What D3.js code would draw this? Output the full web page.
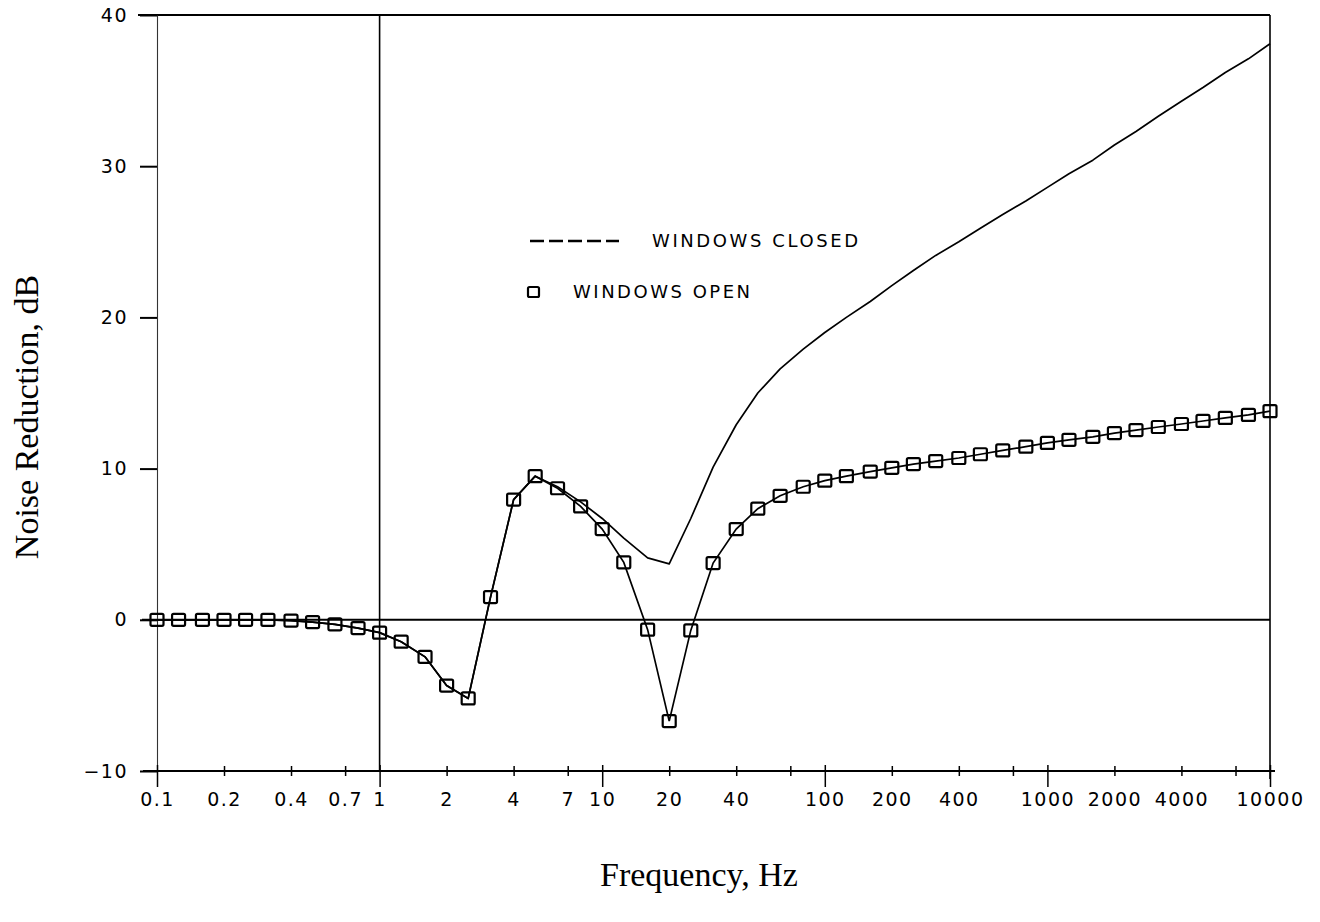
<!DOCTYPE html>
<html>
<head>
<meta charset="utf-8">
<script src="https://cdn.jsdelivr.net/npm/d3@7"></script>
<style>
  body { margin: 0; background: #fff; }
  #chart { width: 1320px; height: 922px; }
  .tickLabel { font-family: "DejaVu Sans", sans-serif; font-size: 19px; letter-spacing: 1.5px; fill: #000; }
  .axisTitle { font-family: "Liberation Serif", "Times New Roman", serif; font-size: 34px; fill: #000; }
  .legendText { font-family: "DejaVu Sans", sans-serif; font-size: 18px; fill: #000; }
</style>
</head>
<body>
<div id="chart"></div>
<script>
// 1/3 octave band centres, Hz
const frequencies = [0.1, 0.125, 0.16, 0.2, 0.25, 0.315, 0.4, 0.5, 0.63, 0.8,
  1, 1.25, 1.6, 2, 2.5, 3.15, 4, 5, 6.3, 8,
  10, 12.5, 16, 20, 25, 31.5, 40, 50, 63, 80,
  100, 125, 160, 200, 250, 315, 400, 500, 630, 800,
  1000, 1250, 1600, 2000, 2500, 3150, 4000, 5000, 6300, 8000, 10000];

// noise reduction, dB
const windowsOpen = [0, 0, 0, 0, 0, 0, -0.05, -0.15, -0.3, -0.55,
  -0.85, -1.45, -2.45, -4.35, -5.2, 1.5, 7.95, 9.5, 8.7, 7.5,
  6.0, 3.8, -0.65, -6.7, -0.7, 3.75, 6.0, 7.35, 8.2, 8.8,
  9.2, 9.5, 9.8, 10.05, 10.3, 10.5, 10.7, 10.95, 11.2, 11.45,
  11.7, 11.9, 12.1, 12.35, 12.55, 12.75, 12.95, 13.15, 13.35, 13.55, 13.8];

const windowsClosed = [0, 0, 0, 0, 0, 0, -0.05, -0.15, -0.3, -0.55,
  -0.85, -1.45, -2.45, -4.35, -5.2, 1.5, 7.95, 9.5, 8.8, 7.8,
  6.7, 5.4, 4.1, 3.7, 6.7, 10.1, 12.9, 15.0, 16.6, 17.9,
  19.0, 20.0, 21.05, 22.1, 23.1, 24.1, 25.0, 25.9, 26.8, 27.7,
  28.6, 29.5, 30.4, 31.4, 32.3, 33.3, 34.3, 35.2, 36.2, 37.1, 38.1];

const xTicks = [0.1, 0.2, 0.4, 0.7, 1, 2, 4, 7, 10, 20, 40, 70, 100, 200, 400, 700, 1000, 2000, 4000, 7000, 10000];
const xTickLabels = ["0.1", "0.2", "0.4", "0.7", "1", "2", "4", "7", "10", "20", "40", "", "100", "200", "400", "", "1000", "2000", "4000", "", "10000"];
const yTicks = [-10, 0, 10, 20, 30, 40];

const legendItems = ["WINDOWS CLOSED", "WINDOWS OPEN"];

const chartDiv = d3.select('#chart');
const width = 1320, height = 922;

const svg = chartDiv.append("svg")
  .attr('width', width)
  .attr('height', height)
  .attr('viewBox', [0, 0, width, height]);

const x = d3.scaleLog().domain([0.1, 10000]).range([157, 1270]);
const y = d3.scaleLinear().domain([-10, 40]).range([771, 15]);

const isDecade = d => Math.abs(Math.log10(d) - Math.round(Math.log10(d))) < 1e-6;

// frame lines
svg.append("line")
  .attr("x1", 138).attr("x2", x(10000))
  .attr("y1", y(40)).attr("y2", y(40))
  .attr("stroke", "#000").attr("stroke-width", 2);

svg.append("line")
  .attr("x1", x(1)).attr("x2", x(1))
  .attr("y1", y(40)).attr("y2", y(-10))
  .attr("stroke", "#000").attr("stroke-width", 1.6);

svg.append("line")
  .attr("x1", x(10000)).attr("x2", x(10000))
  .attr("y1", y(40)).attr("y2", y(-10) + 8)
  .attr("stroke", "#000").attr("stroke-width", 1.6);

svg.append("line")
  .attr("x1", 142).attr("x2", x(10000))
  .attr("y1", y(0)).attr("y2", y(0))
  .attr("stroke", "#000").attr("stroke-width", 2);

// y axis
const yAxis = svg.append("g")
  .attr("transform", `translate(${x(0.1)},0)`)
  .call(d3.axisLeft(y)
    .tickValues(yTicks)
    .tickSizeInner(17)
    .tickSizeOuter(0)
    .tickPadding(12)
    .tickFormat(d => d < 0 ? "\u2212" + Math.abs(d) : d));

yAxis.select(".domain").attr("stroke", "#333").attr("stroke-width", 1.1);
yAxis.selectAll(".tick line").attr("stroke", "#000").attr("stroke-width", 2);
yAxis.selectAll(".tick text").attr("class", "tickLabel");

// x axis
const xAxis = svg.append("g")
  .attr("transform", `translate(0,${y(-10)})`)
  .call(d3.axisBottom(x)
    .tickValues(xTicks)
    .tickSizeOuter(0)
    .tickFormat((d, i) => xTickLabels[i]));

xAxis.select(".domain")
  .attr("d", `M143,0H${x(10000) + 5}`)
  .attr("stroke", "#000").attr("stroke-width", 2.2);

xAxis.selectAll(".tick line")
  .attr("stroke", "#000").attr("stroke-width", 1.5)
  .attr("y1", d => isDecade(d) ? -6 : -5)
  .attr("y2", d => isDecade(d) ? 16 : 5);

xAxis.selectAll(".tick text")
  .attr("class", "tickLabel")
  .attr("y", 22);

// series
const data = frequencies.map((f, i) => ({ f: f, open: windowsOpen[i], closed: windowsClosed[i] }));

const closedLine = d3.line()
  .x(d => x(d.f))
  .y(d => y(d.closed));

const openLine = d3.line()
  .x(d => x(d.f))
  .y(d => y(d.open));

svg.append("path")
  .datum(data)
  .attr("d", closedLine)
  .attr("fill", "none")
  .attr("stroke", "#000")
  .attr("stroke-width", 1.7)
  .attr("stroke-linejoin", "round");

svg.append("path")
  .datum(data)
  .attr("d", openLine)
  .attr("fill", "none")
  .attr("stroke", "#000")
  .attr("stroke-width", 1.7);

const sq = 13;
svg.append("g").selectAll("rect")
  .data(data)
  .join("rect")
  .attr("x", d => x(d.f) - sq / 2)
  .attr("y", d => y(d.open) - sq / 2 + 0.5)
  .attr("width", sq)
  .attr("height", sq - 1)
  .attr("rx", 1.5)
  .attr("fill", "none")
  .attr("stroke", "#000")
  .attr("stroke-width", 2.2);

// legend
const legend = svg.append("g");
legend.append("line")
  .attr("x1", 530).attr("x2", 619)
  .attr("y1", 241).attr("y2", 241)
  .attr("stroke", "#000")
  .attr("stroke-width", 2.5)
  .attr("stroke-dasharray", "14,5");

legend.append("text")
  .attr("class", "legendText")
  .attr("x", 652).attr("y", 247)
  .attr("textLength", 206)
  .attr("lengthAdjust", "spacing")
  .text(legendItems[0]);

legend.append("rect")
  .attr("x", 528).attr("y", 287)
  .attr("width", 11).attr("height", 10)
  .attr("rx", 1.5)
  .attr("fill", "none")
  .attr("stroke", "#000")
  .attr("stroke-width", 2.2);

legend.append("text")
  .attr("class", "legendText")
  .attr("x", 573).attr("y", 298)
  .attr("textLength", 177)
  .attr("lengthAdjust", "spacing")
  .text(legendItems[1]);

// axis titles
svg.append("text")
  .attr("class", "axisTitle")
  .attr("x", 699).attr("y", 886)
  .attr("text-anchor", "middle")
  .text("Frequency, Hz");

svg.append("text")
  .attr("class", "axisTitle")
  .attr("transform", "translate(38,417) rotate(-90)")
  .attr("text-anchor", "middle")
  .text("Noise Reduction, dB");
</script>
</body>
</html>
